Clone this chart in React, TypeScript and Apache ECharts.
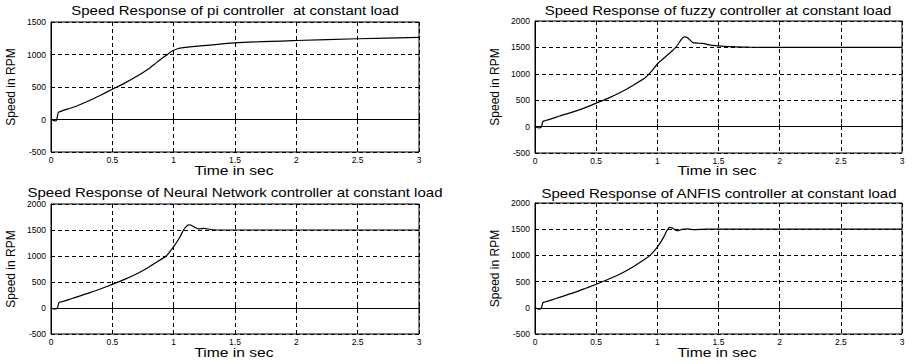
import React, { useEffect, useRef } from "react";
import * as echarts from "echarts";

const titles = [
  "Speed Response of pi controller  at constant load",
  "Speed Response of fuzzy controller at constant load",
  "Speed Response of Neural Network controller at constant load",
  "Speed Response of ANFIS controller at constant load",
];

const xTitle = "Time in sec";
const yTitle = "Speed in RPM";

const piT = [0, 0.01, 0.03, 0.045, 0.06, 0.08, 0.1, 0.15, 0.2, 0.3, 0.4, 0.5, 0.6, 0.7, 0.8, 0.85, 0.9, 0.95, 0.97, 1.0, 1.05, 1.1, 1.2, 1.5, 2.0, 2.5, 3.0];
const piV = [0, -5, -20, -10, 110, 125, 140, 170, 200, 280, 370, 465, 560, 665, 785, 860, 935, 1000, 1030, 1065, 1098, 1110, 1130, 1180, 1215, 1242, 1262];

const fuzzyT = [0, 0.01, 0.03, 0.05, 0.065, 0.08, 0.1, 0.15, 0.2, 0.3, 0.4, 0.5, 0.6, 0.7, 0.8, 0.9, 0.95, 1.0, 1.05, 1.1, 1.15, 1.2, 1.22, 1.25, 1.29, 1.33, 1.37, 1.45, 1.55, 1.75, 2.0, 2.5, 3.0];
const fuzzyV = [0, -10, -25, -15, 100, 110, 125, 160, 200, 270, 350, 445, 540, 650, 780, 925, 1040, 1185, 1290, 1390, 1500, 1660, 1700, 1680, 1590, 1580, 1575, 1540, 1520, 1505, 1500, 1500, 1500];

const nnT = [0, 0.01, 0.03, 0.05, 0.065, 0.08, 0.1, 0.15, 0.2, 0.3, 0.4, 0.5, 0.6, 0.7, 0.8, 0.9, 0.94, 1.0, 1.05, 1.08, 1.1, 1.12, 1.14, 1.17, 1.2, 1.25, 1.3, 1.4, 1.6, 3.0];
const nnV = [0, -10, -20, -10, 105, 115, 130, 165, 205, 280, 365, 455, 550, 660, 790, 940, 1000, 1180, 1360, 1500, 1560, 1600, 1595, 1555, 1520, 1530, 1510, 1500, 1500, 1500];

const anfisT = [0, 0.01, 0.03, 0.05, 0.065, 0.08, 0.1, 0.15, 0.2, 0.3, 0.4, 0.5, 0.6, 0.7, 0.8, 0.9, 0.94, 1.0, 1.05, 1.08, 1.1, 1.12, 1.15, 1.17, 1.2, 1.25, 1.3, 1.4, 3.0];
const anfisV = [0, -10, -25, -15, 100, 110, 125, 160, 200, 275, 360, 450, 545, 650, 780, 930, 1000, 1160, 1340, 1480, 1535, 1525, 1480, 1470, 1495, 1505, 1490, 1500, 1500];

const yMaxs = [1500, 2000, 2000, 2000];
const yMin = -500;
const yStep = 500;
const xMin = 0;
const xMax = 3;
const xStep = 0.5;

const seriesT = [piT, fuzzyT, nnT, anfisT];
const seriesV = [piV, fuzzyV, nnV, anfisV];

const grids = [
  { left: 51, top: 22, width: 368, height: 130 },
  { left: 535, top: 21, width: 367, height: 132 },
  { left: 51, top: 204, width: 368, height: 130 },
  { left: 535, top: 203, width: 367, height: 131 },
];

const titlePos = [
  { x: 235, y: 11 },
  { x: 718, y: 11 },
  { x: 235, y: 193 },
  { x: 719, y: 194 },
];

const xNamePos = [
  { x: 234, y: 171 },
  { x: 717, y: 171 },
  { x: 234, y: 353 },
  { x: 717, y: 353 },
];

const FONT = "Liberation Sans, Arial, sans-serif";

export default function App() {
  const ref = useRef<HTMLDivElement>(null);
  useEffect(() => {
    if (!ref.current) return;
    const chart = echarts.init(ref.current, undefined, { renderer: "svg" });
    const dashed = { show: true, lineStyle: { color: "#000", type: [4, 3] as any, width: 1 } };
    const textEl = (text: string, x: number, y: number, size: number, sx: number) => ({
      type: "text",
      x,
      y,
      scaleX: sx,
      silent: true,
      style: {
        text,
        fontFamily: FONT,
        fontSize: size,
        fill: "#000",
        align: "center",
        verticalAlign: "middle",
        textAlign: "center",
        textVerticalAlign: "middle",
      },
    });
    const option: any = {
      animation: false,
      backgroundColor: "#fff",
      graphic: [
        ...titles.map((t, i) => textEl(t, titlePos[i].x, titlePos[i].y, 12.5, 1.2)),
        ...xNamePos.map((p) => textEl(xTitle, p.x, p.y, 12.5, 1.25)),
      ],
      grid: grids.map((g) => ({ ...g, show: true, borderColor: "#000", borderWidth: 1, backgroundColor: "transparent" })),
      xAxis: grids.map((_, i) => ({
        type: "value",
        gridIndex: i,
        min: xMin,
        max: xMax,
        interval: xStep,
        axisLine: { show: true, lineStyle: { color: "#000", width: 1 } },
        axisTick: { show: true, inside: true, length: 3, lineStyle: { color: "#000" } },
        axisLabel: { fontFamily: FONT, fontSize: 8.5, color: "#000", margin: 3, formatter: (v: number) => String(v) },
        splitLine: dashed,
      })),
      yAxis: grids.map((_, i) => ({
        type: "value",
        gridIndex: i,
        min: yMin,
        max: yMaxs[i],
        interval: yStep,
        name: yTitle,
        nameLocation: "middle",
        nameRotate: 90,
        nameGap: 34,
        nameTextStyle: { fontFamily: FONT, fontSize: 12, color: "#000" },
        axisLine: { show: true, lineStyle: { color: "#000", width: 1 } },
        axisTick: { show: true, inside: true, length: 3, lineStyle: { color: "#000" } },
        axisLabel: { fontFamily: FONT, fontSize: 8.5, color: "#000", margin: 5, formatter: (v: number) => String(v) },
        splitLine: dashed,
      })),
      series: seriesT.map((ts, i) => ({
        type: "line",
        xAxisIndex: i,
        yAxisIndex: i,
        data: ts.map((t, j) => [t, seriesV[i][j]]),
        showSymbol: false,
        symbol: "none",
        smooth: 0.2,
        lineStyle: { color: "#000", width: 1.2 },
      })),
    };
    chart.setOption(option);
    return () => chart.dispose();
  }, []);
  return (
    <div
      ref={ref}
      style={{ position: "fixed", left: 0, top: 0, width: 923, height: 364, background: "#fff" }}
    />
  );
}
